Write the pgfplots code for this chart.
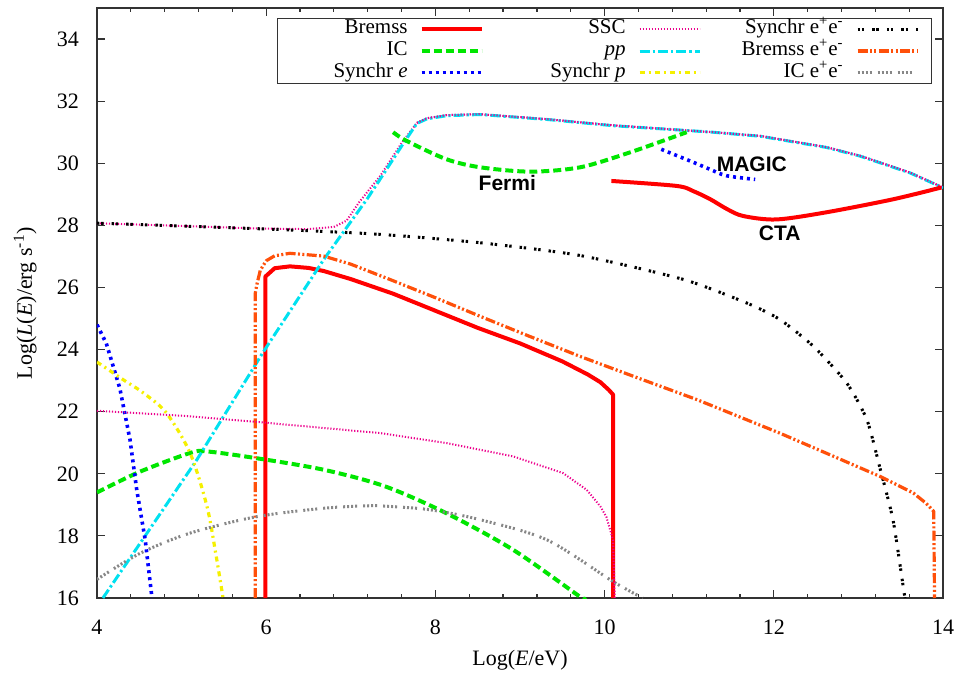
\documentclass[border=0pt]{standalone}
\usepackage{fontspec}
\setmainfont{Liberation Serif}
\newfontfamily\lsans{Liberation Sans}
\usepackage{pgfplots}
\pgfplotsset{compat=1.18}
\definecolor{cgreen}{RGB}{0,230,0}
\definecolor{ccyan}{RGB}{0,225,240}
\definecolor{cyellow}{RGB}{245,240,0}
\definecolor{corange}{RGB}{255,80,10}
\definecolor{cgray}{RGB}{135,135,135}
\pgfplotsset{
 bremss/.style={color=red, line width=2pt, solid},
 ic/.style={color=cgreen, line width=2pt, dash pattern=on 4pt off 2pt},
 syne/.style={color=blue, line width=1.8pt, dash pattern=on 1.5pt off 2pt},
 ssc/.style={color=magenta, line width=1pt, dash pattern=on 0.6pt off 0.9pt},
 pp/.style={color=ccyan, line width=1.5pt, dash pattern=on 5pt off 1.5pt on 1.2pt off 1.5pt},
 synp/.style={color=cyellow, line width=1.6pt, dash pattern=on 2.5pt off 2pt on 1pt off 2pt},
 synee/.style={color=black, line width=1.5pt, dash pattern=on 1.2pt off 0.9pt on 1.2pt off 4pt},
 bree/.style={color=corange, line width=1.6pt, dash pattern=on 5pt off 1.2pt on 1pt off 1.2pt on 1pt off 1.2pt},
 icee/.style={color=cgray, line width=1.5pt, dash pattern=on 1pt off 1pt on 1pt off 1pt on 1pt off 1pt on 1pt off 3pt},
}
\begin{document}
\begin{tikzpicture}
\useasboundingbox (-48.5pt,-38.5pt) rectangle (430pt,299pt);
\begin{axis}[
 at={(0,0)}, anchor=south west,
 scale only axis, width=423pt, height=295pt,
 xmin=4, xmax=14, ymin=16, ymax=35,
 xtick={4,6,...,14}, ytick={16,18,...,34},
 minor x tick num=4,
 major tick length=3.8pt, minor tick length=2pt,
 tick style={black!80, line width=0.6pt},
 axis line style={black!80, line width=0.8pt},
 font=\fontsize{11}{13}\selectfont,
 /pgf/number format/assume math mode=true,
 xticklabel style={yshift=-7.5pt},
 yticklabel style={xshift=-5.5pt},
 xlabel={Log(\textit{E}/eV)},
 ylabel={Log(\textit{L}(\textit{E})/erg s\textsuperscript{-1})},
 xlabel style={at={(axis description cs:0.5,-0.105)}, anchor=center},
 ylabel style={at={(axis description cs:-0.085,0.5)}, anchor=center},
 no markers,
 every axis plot/.append style={line join=round},
 legend columns=3,
 legend plot pos=right,
 legend style={at={(axis description cs:0.2128,0.983)}, anchor=north west,
   draw=black!80, line width=0.6pt, inner sep=0pt,
   font=\fontsize{10.5}{12}\selectfont,
   nodes={inner sep=0pt, text height=7.6pt, text depth=3.2pt},
   column sep=0pt, row sep=0pt},
 legend image code/.code={\path[draw=none,fill=none] (0pt,-0.5pt) rectangle (44pt,0.5pt); \draw[#1] (7pt,0pt) -- (37pt,0pt);},
]
% Legend entries (row-wise)
\addplot[bremss] coordinates {(5.99,16) (5.99,26.35) (6.1,26.62) (6.28,26.68) (6.5,26.63) (6.68,26.53) (7.0,26.27) (7.5,25.8) (8.0,25.25) (8.5,24.7) (9.0,24.2) (9.5,23.62) (9.8,23.2) (9.95,22.95) (10.05,22.7) (10.1,22.55) (10.1,16)};
\addlegendentry{\makebox[65pt][r]{Bremss}}
\addplot[ssc] coordinates {(4.0,28.07) (5.0,27.98) (5.89,27.9) (6.5,27.88) (6.8,27.95) (6.95,28.15) (7.1,28.75) (7.35,29.6) (7.6,30.65) (7.78,31.3) (7.9,31.45) (8.13,31.55) (8.53,31.58) (9.32,31.42) (10.1,31.22) (11.28,31.0) (11.84,30.88) (12.62,30.52) (13.02,30.24) (13.61,29.7) (14.0,29.22)};
\addlegendentry{\makebox[65pt][r]{SSC}}
\addplot[synee, smooth, tension=0.4] coordinates {(4.0,28.07) (6.12,27.87) (7.35,27.71) (8.53,27.44) (9.71,27.03) (10.93,26.26) (11.68,25.5) (12.07,24.97) (12.47,24.1) (12.86,22.93) (13.1,21.74) (13.26,20.13) (13.41,18.5) (13.53,16.36) (13.55,16)};
\addlegendentry{\makebox[65pt][r]{Synchr e\textsuperscript{+}e\textsuperscript{-}}}
\addplot[ic, smooth, tension=0.5] coordinates {(4.0,19.4) (4.51,20.07) (5.1,20.67) (5.3,20.72) (5.89,20.5) (6.68,20.13) (7.4,19.6) (8.13,18.73) (8.92,17.55) (9.71,16.04) (9.75,16)};
\addlegendentry{\makebox[65pt][r]{IC}}
\addplot[pp] coordinates {(4.07,16) (5.18,20.45) (5.96,23.9) (6.68,26.9) (7.19,28.84) (7.35,29.5) (7.6,30.55) (7.78,31.28) (7.9,31.43) (8.13,31.53) (8.53,31.57) (9.32,31.41) (10.1,31.21) (11.28,31.0) (11.84,30.87) (12.62,30.51) (13.02,30.23) (13.61,29.69) (14.0,29.21)};
\addlegendentry{\makebox[65pt][r]{\textit{pp}}}
\addplot[bree] coordinates {(5.87,16) (5.87,25.8) (5.89,26.1) (5.93,26.55) (6.0,26.86) (6.1,27.02) (6.28,27.1) (6.68,27.01) (7.0,26.75) (7.46,26.26) (8.0,25.67) (8.53,25.07) (9.1,24.44) (9.71,23.78) (10.4,23.08) (11.09,22.39) (12.07,21.31) (12.7,20.57) (13.26,19.91) (13.65,19.38) (13.8,19.05) (13.89,18.79) (13.9,16)};
\addlegendentry{\makebox[65pt][r]{Bremss e\textsuperscript{+}e\textsuperscript{-}}}
\addplot[syne] coordinates {(4.0,24.8) (4.11,24.2) (4.27,22.75) (4.39,21.1) (4.47,19.48) (4.57,17.87) (4.65,16)};
\addlegendentry{\makebox[65pt][r]{Synchr \textit{e}}}
\addplot[synp, smooth, tension=0.5] coordinates {(4.0,23.6) (4.31,23.03) (4.55,22.6) (4.82,21.96) (5.1,20.67) (5.3,18.95) (5.41,17.33) (5.49,16)};
\addlegendentry{\makebox[65pt][r]{Synchr \textit{p}}}
\addplot[icee, smooth, tension=0.5] coordinates {(4.0,16.6) (4.51,17.44) (5.1,18.09) (5.89,18.62) (6.68,18.89) (7.2,18.97) (7.46,18.95) (7.94,18.84) (8.53,18.52) (9.32,17.87) (10.1,16.53) (10.45,16.0)};
\addlegendentry{\makebox[65pt][r]{IC e\textsuperscript{+}e\textsuperscript{-}}}
% Other curves
\addplot[ssc, forget plot] coordinates {(7.78,31.3) (7.9,31.45) (8.13,31.55) (8.53,31.58) (9.32,31.42) (10.1,31.22) (11.28,31.0) (11.84,30.88) (12.62,30.52) (13.02,30.24) (13.61,29.7) (14.0,29.22)};
\addplot[ssc, forget plot] coordinates {(4.0,22.03) (5.0,21.87) (5.89,21.67) (7.35,21.31) (8.13,20.99) (8.92,20.56) (9.51,20.02) (9.79,19.48) (9.95,18.95) (10.02,18.62) (10.1,17.87) (10.12,16)};
\addplot[ic, forget plot, smooth, tension=0.5] coordinates {(7.5,31.0) (7.66,30.72) (8.13,30.13) (8.53,29.87) (9.12,29.73) (9.71,29.87) (10.3,30.35) (10.97,31.0)};
\addplot[syne, forget plot, smooth, tension=0.5] coordinates {(10.67,30.45) (11.05,30.03) (11.25,29.8) (11.44,29.6) (11.78,29.48)};
\addplot[bremss, forget plot, smooth, tension=0.5] coordinates {(10.08,29.43) (10.85,29.27) (11.05,29.1) (11.25,28.84) (11.45,28.52) (11.64,28.3) (12.03,28.19) (12.62,28.42) (13.41,28.84) (13.98,29.22)};
\node[font=\lsans\bfseries\fontsize{10.5}{12}\selectfont] at (axis cs:8.85,29.35) {Fermi};
\node[font=\lsans\bfseries\fontsize{10.5}{12}\selectfont] at (axis cs:11.74,29.98) {MAGIC};
\node[font=\lsans\bfseries\fontsize{10.5}{12}\selectfont] at (axis cs:12.07,27.74) {CTA};
\end{axis}
\end{tikzpicture}
\end{document}
